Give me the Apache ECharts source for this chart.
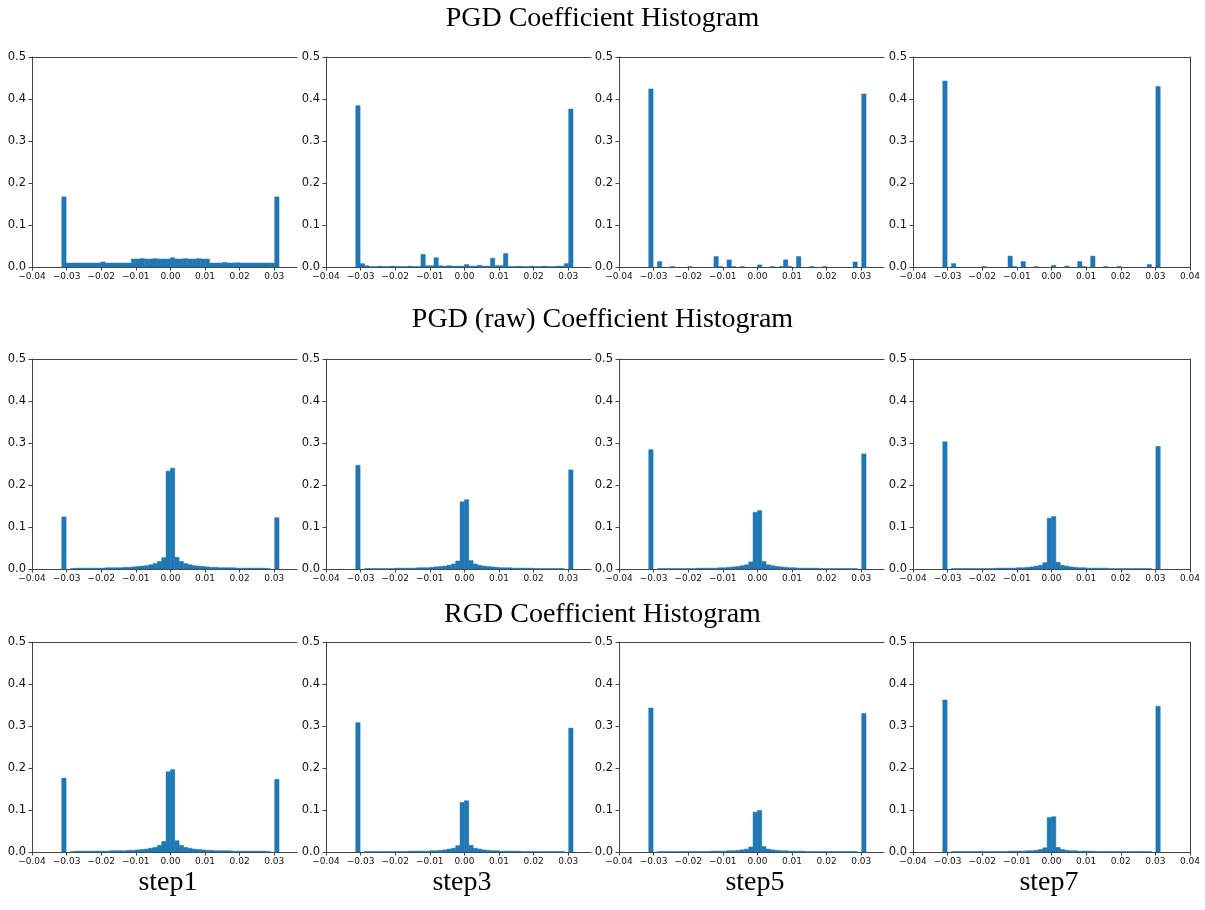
<!DOCTYPE html>
<html>
<head>
<meta charset="utf-8">
<script src="https://cdn.jsdelivr.net/npm/echarts@6/dist/echarts.min.js"></script>
<style>html,body{margin:0;padding:0;background:#fff}#c{width:1205px;height:910px}</style>
</head>
<body>
<div id="c"></div>
<script>
// ---- histogram bin definition ----
const binLo = -0.0314, binHi = 0.0314, binCount = 50;

// ---- titles / labels ----
const rowTitles = ['PGD Coefficient Histogram', 'PGD (raw) Coefficient Histogram', 'RGD Coefficient Histogram'];
const colLabels = ['step1', 'step3', 'step5', 'step7'];
const xTicks = [-0.04, -0.03, -0.02, -0.01, 0.00, 0.01, 0.02, 0.03, 0.04];
const yTicks = [0.0, 0.1, 0.2, 0.3, 0.4, 0.5];

// ---- data: fraction per bin (50 bins) ----
const pgdStep1 = [0.167,0.0095,0.0095,0.0095,0.0095,0.0095,0.0095,0.0095,0.0095,0.012,0.0095,0.0095,0.0095,0.0095,0.0095,0.0095,0.019,0.019,0.020,0.019,0.019,0.020,0.019,0.019,0.019,0.022,0.019,0.019,0.020,0.019,0.019,0.020,0.019,0.019,0.0095,0.0095,0.0095,0.011,0.0095,0.0095,0.010,0.0095,0.0095,0.0095,0.0095,0.0095,0.0095,0.0095,0.0095,0.167];
const pgdStep3 = [0.384,0.008,0.003,0.001,0.001,0.002,0.001,0.001,0.002,0.001,0.001,0.001,0.002,0.001,0.001,0.030,0.003,0.003,0.022,0.003,0.002,0.003,0.002,0.002,0.002,0.006,0.002,0.002,0.004,0.002,0.002,0.021,0.003,0.003,0.032,0.001,0.001,0.002,0.001,0.001,0.002,0.001,0.001,0.002,0.001,0.001,0.002,0.002,0.008,0.376];
const pgdStep5 = [0.424,0.000,0.013,0.000,0.000,0.001,0.000,0.000,0.000,0.001,0.000,0.000,0.000,0.000,0.000,0.025,0.001,0.000,0.017,0.001,0.000,0.001,0.000,0.000,0.000,0.005,0.000,0.000,0.001,0.000,0.001,0.017,0.001,0.000,0.025,0.000,0.000,0.001,0.000,0.000,0.001,0.000,0.000,0.000,0.000,0.000,0.000,0.012,0.000,0.412];
const pgdStep7 = [0.443,0.000,0.008,0.000,0.000,0.000,0.000,0.000,0.000,0.001,0.000,0.000,0.000,0.000,0.000,0.026,0.001,0.000,0.013,0.000,0.000,0.001,0.000,0.000,0.000,0.004,0.000,0.000,0.002,0.000,0.000,0.013,0.001,0.000,0.026,0.000,0.000,0.001,0.000,0.000,0.001,0.000,0.000,0.000,0.000,0.000,0.000,0.006,0.000,0.430];

const rawStep1 = [0.124,0.000,0.001,0.002,0.002,0.002,0.002,0.002,0.002,0.002,0.003,0.003,0.003,0.003,0.004,0.004,0.005,0.006,0.007,0.008,0.010,0.013,0.018,0.027,0.233,0.240,0.028,0.018,0.013,0.010,0.008,0.007,0.006,0.005,0.004,0.004,0.003,0.003,0.003,0.003,0.002,0.002,0.002,0.002,0.002,0.002,0.002,0.001,0.000,0.122];
const rawStep3 = [0.247,0.000,0.001,0.001,0.001,0.001,0.001,0.001,0.001,0.002,0.002,0.002,0.002,0.002,0.003,0.003,0.003,0.004,0.005,0.006,0.007,0.009,0.012,0.019,0.160,0.165,0.020,0.012,0.009,0.007,0.006,0.005,0.004,0.003,0.003,0.003,0.002,0.002,0.002,0.002,0.002,0.001,0.001,0.001,0.001,0.001,0.001,0.001,0.000,0.236];
const rawStep5 = [0.284,0.000,0.001,0.001,0.001,0.001,0.001,0.001,0.001,0.001,0.001,0.002,0.002,0.002,0.002,0.002,0.003,0.003,0.004,0.005,0.006,0.008,0.010,0.017,0.135,0.139,0.018,0.010,0.008,0.006,0.005,0.004,0.003,0.003,0.002,0.002,0.002,0.002,0.002,0.001,0.001,0.001,0.001,0.001,0.001,0.001,0.001,0.001,0.000,0.274];
const rawStep7 = [0.303,0.000,0.001,0.001,0.001,0.001,0.001,0.001,0.001,0.001,0.001,0.001,0.002,0.002,0.002,0.002,0.002,0.003,0.003,0.004,0.005,0.007,0.009,0.015,0.121,0.125,0.016,0.009,0.007,0.005,0.004,0.003,0.003,0.002,0.002,0.002,0.002,0.002,0.001,0.001,0.001,0.001,0.001,0.001,0.001,0.001,0.001,0.001,0.000,0.292];

const rgdStep1 = [0.176,0.000,0.001,0.002,0.002,0.002,0.002,0.002,0.002,0.002,0.002,0.003,0.003,0.003,0.003,0.004,0.004,0.005,0.006,0.007,0.009,0.011,0.016,0.025,0.191,0.196,0.027,0.016,0.011,0.009,0.007,0.006,0.005,0.004,0.004,0.003,0.003,0.003,0.003,0.002,0.002,0.002,0.002,0.002,0.002,0.002,0.002,0.001,0.000,0.173];
const rgdStep3 = [0.308,0.000,0.001,0.001,0.001,0.001,0.001,0.001,0.001,0.001,0.001,0.001,0.002,0.002,0.002,0.002,0.002,0.003,0.003,0.004,0.005,0.007,0.009,0.015,0.118,0.122,0.016,0.009,0.007,0.005,0.004,0.003,0.003,0.002,0.002,0.002,0.002,0.002,0.001,0.001,0.001,0.001,0.001,0.001,0.001,0.001,0.001,0.001,0.000,0.295];
const rgdStep5 = [0.343,0.000,0.001,0.001,0.001,0.001,0.001,0.001,0.001,0.001,0.001,0.001,0.001,0.001,0.002,0.002,0.002,0.002,0.003,0.003,0.004,0.005,0.007,0.012,0.095,0.099,0.013,0.007,0.005,0.004,0.003,0.003,0.002,0.002,0.002,0.002,0.001,0.001,0.001,0.001,0.001,0.001,0.001,0.001,0.001,0.001,0.001,0.001,0.000,0.330];
const rgdStep7 = [0.362,0.000,0.001,0.001,0.001,0.001,0.001,0.001,0.001,0.001,0.001,0.001,0.001,0.001,0.001,0.002,0.002,0.002,0.002,0.003,0.003,0.004,0.006,0.010,0.082,0.084,0.011,0.006,0.004,0.003,0.003,0.002,0.002,0.002,0.002,0.001,0.001,0.001,0.001,0.001,0.001,0.001,0.001,0.001,0.001,0.001,0.001,0.001,0.000,0.347];

const panels = [
  [pgdStep1, pgdStep3, pgdStep5, pgdStep7],
  [rawStep1, rawStep3, rawStep5, rawStep7],
  [rgdStep1, rgdStep3, rgdStep5, rgdStep7]
];

// ---- layout ----
const colLeft = [32, 326, 619, 913];
const rowTop = [57, 359, 642];
const gridH = 210;
const pxPer = 3460; // px per unit x (0.01 -> 34.6px)
const lastColMax = 0.04;
const innerColWidth = 265;
const innerColMax = -0.04 + innerColWidth / pxPer;
const titleTops = [0, 301, 596];
const colLabelCenters = [163, 457, 750, 1044];

const binW = (binHi - binLo) / binCount;
function toRects(vals) {
  return vals.map((v, k) => [binLo + k * binW, binLo + (k + 1) * binW, v]);
}
const minus = s => s.replace('-', '\u2212');
const spine = {show: true, onZero: false, lineStyle: {color: '#444', width: 1}};
const tickFont = 'DejaVu Sans';

const grids = [], xAxes = [], yAxes = [], series = [], titles = [];
panels.forEach((row, r) => {
  row.forEach((vals, c) => {
    const last = c === 3;
    const gi = grids.length;
    const xmax = last ? lastColMax : innerColMax;
    grids.push({left: colLeft[c], top: rowTop[r], width: last ? 277 : innerColWidth, height: gridH, show: false});
    const shownTicks = last ? xTicks : xTicks.slice(0, 8);
    const xi = xAxes.length;
    xAxes.push({
      type: 'value', gridIndex: gi, min: -0.04, max: xmax, position: 'bottom',
      axisLine: spine, splitLine: {show: false},
      axisTick: {show: true, length: 3.5, lineStyle: {color: '#444'}, customValues: shownTicks},
      axisLabel: {customValues: shownTicks, fontFamily: tickFont, fontSize: 9, color: '#111', margin: 5,
        formatter: v => minus(v.toFixed(2))}
    });
    xAxes.push({
      type: 'value', gridIndex: gi, min: -0.04, max: xmax, position: 'top',
      axisLine: spine, axisTick: {show: false}, axisLabel: {show: false}, splitLine: {show: false}
    });
    const yi = yAxes.length;
    yAxes.push({
      type: 'value', gridIndex: gi, min: 0, max: 0.5, interval: 0.1, position: 'left',
      axisLine: spine, splitLine: {show: false},
      axisTick: {show: true, length: 3.5, lineStyle: {color: '#444'}},
      axisLabel: {fontFamily: tickFont, fontSize: 11.5, color: '#111', margin: 6, formatter: v => v.toFixed(1)}
    });
    if (last) {
      yAxes.push({
        type: 'value', gridIndex: gi, min: 0, max: 0.5, position: 'right',
        axisLine: spine, axisTick: {show: false}, axisLabel: {show: false}, splitLine: {show: false}
      });
    }
    series.push({
      type: 'custom', xAxisIndex: xi, yAxisIndex: yi,
      data: toRects(vals),
      encode: {x: [0, 1], y: 2},
      renderItem: function (params, api) {
        const v = api.value(2);
        if (!(v > 0)) return null;
        const p0 = api.coord([api.value(0), v]);
        const p1 = api.coord([api.value(1), 0]);
        return {type: 'rect', shape: {x: p0[0], y: p0[1], width: p1[0] - p0[0], height: p1[1] - p0[1]},
          style: {fill: '#1f77b4', stroke: '#1f77b4', lineWidth: 0.5}};
      },
      silent: true
    });
  });
});

rowTitles.forEach((t, r) => {
  titles.push({text: t, left: 'center', top: titleTops[r],
    textStyle: {fontFamily: 'Liberation Serif', fontSize: 28, fontWeight: 'normal', color: '#000'}});
});
colLabels.forEach((t, c) => {
  titles.push({text: t, left: colLabelCenters[c], textAlign: 'center', top: 864,
    textStyle: {fontFamily: 'Liberation Serif', fontSize: 28, fontWeight: 'normal', color: '#000'}});
});

const chart = echarts.init(document.getElementById('c'), null, {renderer: 'canvas'});
chart.setOption({
  animation: false,
  backgroundColor: '#fff',
  title: titles,
  grid: grids, xAxis: xAxes, yAxis: yAxes, series: series
});
</script>
</body>
</html>
